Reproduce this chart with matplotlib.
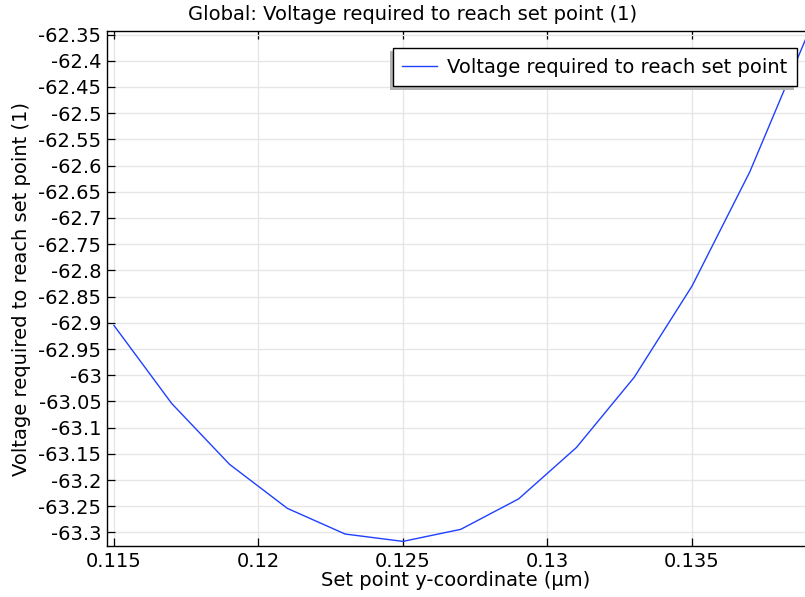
import matplotlib
matplotlib.use("Agg")
import matplotlib.pyplot as plt
from matplotlib.patches import Rectangle
from matplotlib.ticker import FuncFormatter, MultipleLocator

# set point y-coordinate (um) and voltage values
set_point_y = [0.115, 0.117, 0.119, 0.121, 0.123, 0.125, 0.127,
               0.129, 0.131, 0.133, 0.135, 0.137, 0.139]
voltage = [-62.905, -63.054, -63.170, -63.254, -63.303, -63.317, -63.294,
           -63.236, -63.138, -63.004, -62.830, -62.612, -62.350]

x_ticks = [0.115, 0.12, 0.125, 0.13, 0.135]

plt.rcParams["font.family"] = ["DejaVu Sans"]
FS = 14

fig = plt.figure(figsize=(8.05, 5.97), dpi=100)
ax = fig.add_axes([107 / 805, 51 / 597, 698 / 805, 515 / 597])

ax.plot(set_point_y, voltage, color="#1f40ff", lw=1.0,
        label="Voltage required to reach set point")

ax.set_xlim(0.11476, 0.13891)
ax.set_ylim(-63.3258, -62.3433)
ax.set_xticks(x_ticks)
ax.set_xticklabels([f"{t:g}" for t in x_ticks])
ax.yaxis.set_major_locator(MultipleLocator(0.05))
ax.yaxis.set_major_formatter(FuncFormatter(lambda v, p: f"{round(v, 2):g}"))

ax.grid(True, color="#e6e6e6", lw=1.0)
ax.set_axisbelow(True)
ax.tick_params(direction="in", length=5.5, width=0.9, labelsize=FS,
               top=True, right=False, pad=4)
ax.spines["right"].set_visible(False)
for s in ("left", "bottom", "top"):
    ax.spines[s].set_linewidth(1.0)

ax.set_xlabel("Set point y-coordinate (µm)", fontsize=FS, labelpad=0)
ax.set_ylabel("Voltage required to reach set point (1)", fontsize=FS,
              labelpad=5)
fig.text(413 / 805, 1 - 15 / 597,
         "Global: Voltage required to reach set point (1)",
         ha="center", va="center", fontsize=FS)

leg = ax.legend(loc="upper right", bbox_to_anchor=(0.9885, 0.967),
                borderaxespad=0, fontsize=FS, fancybox=False,
                framealpha=1, edgecolor="black", handlelength=1.8,
                handletextpad=0.5, borderpad=0.5)
leg.get_frame().set_linewidth(1.0)

# shadow down-left of the legend box
fig.canvas.draw()
bb = leg.get_window_extent().transformed(ax.transAxes.inverted())
dx = 3 / 698
dy = 3.5 / 515
ax.add_patch(Rectangle((bb.x0 - dx, bb.y0 - dy), bb.width, bb.height,
                       transform=ax.transAxes, facecolor="#b3b3b3",
                       edgecolor="none", zorder=4.9, clip_on=False))

fig.savefig("out.png", dpi=100)
